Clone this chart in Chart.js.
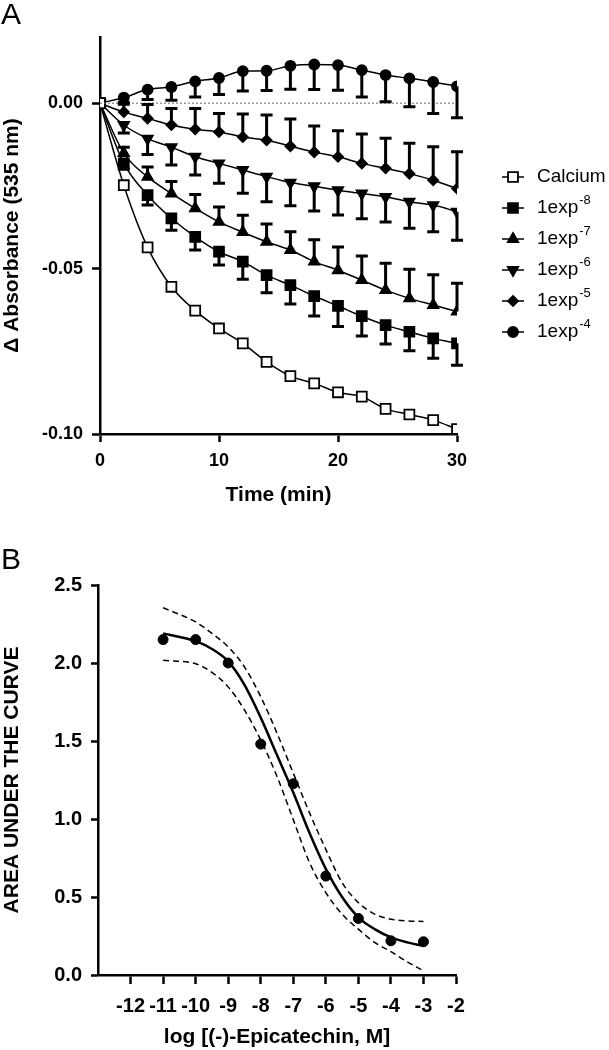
<!DOCTYPE html>
<html>
<head>
<meta charset="utf-8">
<script src="https://cdn.jsdelivr.net/npm/chart.js@4/dist/chart.umd.min.js"></script>
<style>
  body { margin: 0; background: #fff; width: 609px; height: 1050px; position: relative; overflow: hidden; font-family: "Liberation Sans", Arial, sans-serif; }
  canvas { position: absolute; left: 0; }
  #chartA { top: 0; }
  #chartB { top: 515px; }
  .panel { position: absolute; left: 1px; font-size: 30px; line-height: 1; color: #000; }
</style>
</head>
<body>
<canvas id="chartA" width="609" height="515"></canvas>
<canvas id="chartB" width="609" height="535"></canvas>
<div class="panel" style="top:-1px">A</div>
<div class="panel" style="top:544px">B</div>
<script>
// Panel A: change of absorbance over time
const timeMin = [0, 2, 4, 6, 8, 10, 12, 14, 16, 18, 20, 22, 24, 26, 28, 30];
const calcium = [0, -0.0248, -0.0436, -0.0555, -0.0627, -0.0681, -0.0726, -0.0782, -0.0825, -0.0847, -0.0874, -0.0887, -0.0924, -0.0941, -0.0958, -0.0985];
const exp8 = [0, -0.0182, -0.0278, -0.0348, -0.0404, -0.0449, -0.0479, -0.0520, -0.0550, -0.0583, -0.0613, -0.0644, -0.0671, -0.0691, -0.0711, -0.0726];
const exp7 = [0, -0.0151, -0.0223, -0.0273, -0.0318, -0.0359, -0.0390, -0.0419, -0.0444, -0.0479, -0.0505, -0.0535, -0.0565, -0.0590, -0.0610, -0.0630];
const exp6 = [0, -0.0066, -0.0107, -0.0133, -0.0162, -0.0182, -0.0202, -0.0222, -0.0240, -0.0251, -0.0263, -0.0273, -0.0283, -0.0298, -0.0308, -0.0328];
const exp5 = [0, -0.0027, -0.0046, -0.0066, -0.0079, -0.0087, -0.0102, -0.0112, -0.0130, -0.0148, -0.0162, -0.0182, -0.0197, -0.0213, -0.0233, -0.0258];
const exp4 = [0, 0.0017, 0.0041, 0.0049, 0.0066, 0.0076, 0.0097, 0.0098, 0.0113, 0.0117, 0.0115, 0.0100, 0.0085, 0.0075, 0.0064, 0.0051];
// error bars (one direction only, as in the figure)
const err8 = [0, 0.0018, 0.0030, 0.0036, 0.0040, 0.0040, 0.0053, 0.0053, 0.0057, 0.0060, 0.0062, 0.0060, 0.0057, 0.0057, 0.0060, 0.0066];
const err7 = [0, 0.0018, 0.0030, 0.0036, 0.0042, 0.0045, 0.0051, 0.0054, 0.0055, 0.0066, 0.0070, 0.0073, 0.0081, 0.0088, 0.0091, 0.0086];
const err6 = [0, 0.0024, 0.0048, 0.0054, 0.0055, 0.0060, 0.0070, 0.0076, 0.0070, 0.0075, 0.0075, 0.0076, 0.0076, 0.0080, 0.0081, 0.0086];
const err5 = [0, 0.0024, 0.0042, 0.0050, 0.0063, 0.0056, 0.0069, 0.0076, 0.0082, 0.0079, 0.0079, 0.0089, 0.0091, 0.0092, 0.0101, 0.0111];
const err4 = [0, 0.0015, 0.0030, 0.0040, 0.0047, 0.0050, 0.0060, 0.0060, 0.0071, 0.0076, 0.0076, 0.0081, 0.0081, 0.0086, 0.0095, 0.0095];
const baselineTime = [0, 30];
const legendNames = ['Calcium', '1exp', '1exp', '1exp', '1exp', '1exp'];
const legendSup = ['', '-8', '-7', '-6', '-5', '-4'];
const xTicksA = [0, 10, 20, 30];
const yTicksA = [-0.10, -0.05, 0];

// Panel B: area under the curve vs log concentration
const logConc = [-11, -10, -9, -8, -7, -6, -5, -4, -3];
const auc = [2.15, 2.15, 2.00, 1.48, 1.226, 0.634, 0.362, 0.219, 0.213];
const fitX = [-11, -10, -9.5, -9, -8.5, -8, -7.5, -7, -6.5, -6, -5.5, -5, -4.5, -4, -3.5, -3];
const fitY = [2.19, 2.14, 2.09, 2.01, 1.86, 1.65, 1.41, 1.17, 0.91, 0.68, 0.50, 0.37, 0.294, 0.241, 0.209, 0.187];
const upperY = [2.354, 2.263, 2.19, 2.103, 1.975, 1.784, 1.55, 1.294, 1.039, 0.805, 0.592, 0.464, 0.39, 0.358, 0.347, 0.343];
const lowerY = [2.018, 1.995, 1.94, 1.847, 1.699, 1.507, 1.273, 0.996, 0.72, 0.528, 0.39, 0.294, 0.209, 0.15, 0.085, 0.027];
const xTicksB = [-12, -11, -10, -9, -8, -7, -6, -5, -4, -3, -2];
const yTicksB = [0, 0.5, 1.0, 1.5, 2.0, 2.5];

const ink = '#000';
const fontFamily = '"Liberation Sans", Arial, sans-serif';
Chart.defaults.font.family = fontFamily;
Chart.defaults.color = ink;

function pts(xs, ys) {
  return xs.map((x, i) => ({ x: x, y: ys[i] }));
}

function seriesA(label, values, style, radius, rotation, fill, errors, dir) {
  return {
    label: label,
    data: pts(timeMin, values),
    borderColor: ink,
    borderWidth: 1.5,
    cubicInterpolationMode: 'monotone',
    showLine: true,
    pointStyle: style,
    pointRadius: radius,
    pointRotation: rotation,
    pointBackgroundColor: fill,
    pointBorderColor: ink,
    pointBorderWidth: 1.8,
    errors: errors,
    errorDir: dir
  };
}

// error bars drawn from the y scale
const errorBars = {
  id: 'errorBars',
  afterDatasetsDraw(chart) {
    const ctx = chart.ctx, yScale = chart.scales.y;
    chart.data.datasets.forEach((ds, i) => {
      if (!ds.errors) return;
      const meta = chart.getDatasetMeta(i);
      ctx.save();
      ctx.strokeStyle = ink;
      ctx.lineWidth = 3;
      meta.data.forEach((pt, j) => {
        const e = ds.errors[j];
        if (!e) return;
        const yEnd = yScale.getPixelForValue(ds.data[j].y + ds.errorDir * e);
        ctx.beginPath();
        ctx.moveTo(pt.x, pt.y);
        ctx.lineTo(pt.x, yEnd);
        ctx.moveTo(pt.x - 6, yEnd);
        ctx.lineTo(pt.x + 6, yEnd);
        ctx.stroke();
      });
      ctx.restore();
    });
  }
};

function drawMarker(ctx, ds, x, y) {
  const r = ds.pointRadius, rot = (ds.pointRotation || 0) * Math.PI / 180;
  ctx.beginPath();
  if (ds.pointStyle === 'circle') {
    ctx.arc(x, y, r, 0, 2 * Math.PI);
  } else if (ds.pointStyle === 'rect') {
    const s = r * Math.SQRT1_2;
    ctx.rect(x - s, y - s, 2 * s, 2 * s);
  } else if (ds.pointStyle === 'rectRot') {
    ctx.moveTo(x, y - r); ctx.lineTo(x + r, y); ctx.lineTo(x, y + r); ctx.lineTo(x - r, y); ctx.closePath();
  } else {
    for (let k = 0; k < 3; k++) {
      const a = rot + k * 2 * Math.PI / 3;
      const px = x + Math.sin(a) * r, py = y - Math.cos(a) * r;
      if (k) ctx.lineTo(px, py); else ctx.moveTo(px, py);
    }
    ctx.closePath();
  }
  ctx.fillStyle = ds.pointBackgroundColor;
  ctx.fill();
  ctx.lineWidth = ds.pointBorderWidth;
  ctx.strokeStyle = ink;
  ctx.stroke();
}

// legend at the right with superscript exponents
const sideLegend = {
  id: 'sideLegend',
  afterDraw(chart) {
    const ctx = chart.ctx;
    legendNames.forEach((name, i) => {
      const ds = chart.data.datasets[i + 1];
      const yy = 177 + i * 31;
      ctx.save();
      ctx.strokeStyle = ink;
      ctx.lineWidth = 1.5;
      ctx.beginPath();
      ctx.moveTo(502, yy);
      ctx.lineTo(524, yy);
      ctx.stroke();
      drawMarker(ctx, ds, 513, yy);
      ctx.fillStyle = ink;
      ctx.textBaseline = 'middle';
      ctx.textAlign = 'left';
      ctx.font = '19px ' + fontFamily;
      ctx.fillText(name, 537, yy);
      if (legendSup[i]) {
        const w = ctx.measureText(name).width;
        ctx.font = '13px ' + fontFamily;
        ctx.fillText(legendSup[i], 537 + w + 1, yy - 8);
      }
      ctx.restore();
    });
  }
};

function axisStyle(size, tickLen, pad) {
  return {
    grid: { display: true, drawOnChartArea: false, drawTicks: true, tickLength: tickLen, tickWidth: 2.5, tickColor: ink },
    border: { display: true, color: ink, width: 2.5 },
    ticks: { font: { size: size, weight: 'bold' }, padding: pad, maxRotation: 0, autoSkip: false, color: ink }
  };
}

const chartA = new Chart(document.getElementById('chartA'), {
  type: 'scatter',
  data: {
    datasets: [
      {
        label: 'zero',
        data: pts(baselineTime, [0, 0]),
        showLine: true,
        borderColor: '#666',
        borderDash: [2, 2],
        borderWidth: 1,
        pointRadius: 0
      },
      seriesA('Calcium', calcium, 'rect', 7, 0, '#fff', null, 0),
      seriesA('1exp-8', exp8, 'rect', 7, 0, ink, err8, -1),
      seriesA('1exp-7', exp7, 'triangle', 6, 0, ink, err7, 1),
      seriesA('1exp-6', exp6, 'triangle', 6, 180, ink, err6, -1),
      seriesA('1exp-5', exp5, 'rectRot', 5, 0, ink, err5, 1),
      seriesA('1exp-4', exp4, 'circle', 5, 0, ink, err4, -1)
    ]
  },
  options: {
    responsive: false,
    animation: false,
    layout: { padding: { top: 37, right: 152, left: 0, bottom: 0 } },
    plugins: { legend: { display: false }, tooltip: { enabled: false } },
    scales: {
      x: Object.assign(axisStyle(18, 8, 8), {
        type: 'linear', min: 0, max: 30,
        afterBuildTicks: s => { s.ticks = xTicksA.map(v => ({ value: v })); },
        afterFit: s => { s.height = 81; },
        title: { display: true, text: 'Time (min)', font: { size: 21, weight: 'bold' }, padding: { top: 0, bottom: 7 } }
      }),
      y: Object.assign(axisStyle(18, 8, 9), {
        type: 'linear', min: -0.10, max: 0.02,
        afterBuildTicks: s => { s.ticks = yTicksA.map(v => ({ value: v })); },
        afterFit: s => { s.width = 100; },
        title: { display: true, text: 'Δ Absorbance (535 nm)', font: { size: 21, weight: 'bold' }, padding: { top: 0, bottom: 0 } }
      })
    }
  },
  plugins: [errorBars, sideLegend]
});
chartA.options.scales.x.ticks.callback = v => String(v);
chartA.options.scales.y.ticks.callback = v => v.toFixed(2);
chartA.update();

const chartB = new Chart(document.getElementById('chartB'), {
  type: 'scatter',
  data: {
    datasets: [
      { label: 'fit', data: pts(fitX, fitY), showLine: true, borderColor: ink, borderWidth: 2.5, cubicInterpolationMode: 'monotone', pointRadius: 0 },
      { label: 'upper', data: pts(fitX, upperY), showLine: true, borderColor: ink, borderWidth: 1.5, borderDash: [6, 4], cubicInterpolationMode: 'monotone', pointRadius: 0 },
      { label: 'lower', data: pts(fitX, lowerY), showLine: true, borderColor: ink, borderWidth: 1.5, borderDash: [6, 4], cubicInterpolationMode: 'monotone', pointRadius: 0 },
      { label: 'AUC', data: pts(logConc, auc), showLine: false, pointStyle: 'circle', pointRadius: 5, pointBackgroundColor: ink, pointBorderColor: ink }
    ]
  },
  options: {
    responsive: false,
    animation: false,
    layout: { padding: { top: 70, right: 153, left: 0, bottom: 0 } },
    plugins: { legend: { display: false }, tooltip: { enabled: false } },
    scales: {
      x: Object.assign(axisStyle(20, 9, 10), {
        type: 'linear', min: -13, max: -2,
        afterBuildTicks: s => { s.ticks = xTicksB.map(v => ({ value: v })); },
        afterFit: s => { s.height = 75; },
        title: { display: true, text: 'log [(-)-Epicatechin, M]', font: { size: 21, weight: 'bold' }, padding: { top: 0, bottom: 0 } }
      }),
      y: Object.assign(axisStyle(20, 7, 9), {
        type: 'linear', min: 0, max: 2.5,
        afterBuildTicks: s => { s.ticks = yTicksB.map(v => ({ value: v })); },
        afterFit: s => { s.width = 98; },
        title: { display: true, text: 'AREA UNDER THE CURVE', font: { size: 21, weight: 'bold' }, padding: { top: 0, bottom: 0 } }
      })
    }
  }
});
chartB.options.scales.x.ticks.callback = v => String(v);
chartB.options.scales.y.ticks.callback = v => v.toFixed(1);
chartB.update();
</script>
</body>
</html>
